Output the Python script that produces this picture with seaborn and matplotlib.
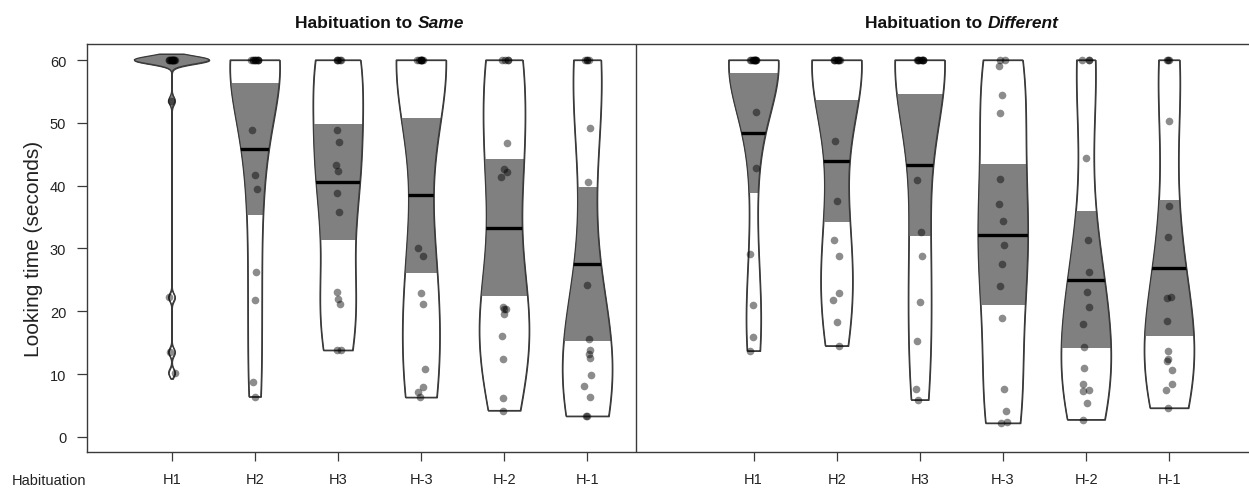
import numpy as np
import pandas as pd
import seaborn as sns
import matplotlib.pyplot as plt
from matplotlib.patches import Rectangle, PathPatch
from matplotlib.offsetbox import TextArea, HPacker, AnnotationBbox

# phases and x positions of the two habituation groups
phases = ['H1', 'H2', 'H3', 'H-3', 'H-2', 'H-1']
same_pos = [1, 2, 3, 4, 5, 6]
diff_pos = [8, 9, 10, 11, 12, 13]

# looking times (seconds), 16 infants per cell
same_h1 = [60, 60, 60, 60, 60, 60, 60, 60, 60, 60, 60, 60, 53.5, 22.2, 13.5, 10.2]
same_h2 = [60, 60, 60, 60, 60, 60, 60, 60, 60, 48.9, 41.7, 39.5, 26.2, 21.8, 8.8, 6.4]
same_h3 = [60, 60, 60, 60, 60, 48.9, 46.9, 43.3, 42.4, 38.8, 35.8, 23.1, 22.0, 21.2, 13.9, 13.8]
same_hm3 = [60, 60, 60, 60, 60, 60, 60, 60, 30.1, 28.8, 22.9, 21.1, 10.8, 8.0, 7.2, 6.3]
same_hm2 = [60, 60, 60, 60, 46.8, 42.7, 42.2, 41.4, 20.7, 20.4, 20.3, 19.6, 16.1, 12.4, 6.2, 4.2]
same_hm1 = [60, 60, 60, 60, 49.1, 40.6, 24.2, 15.6, 13.8, 13.2, 12.5, 9.9, 8.1, 6.3, 3.4, 3.3]

diff_h1 = [60, 60, 60, 60, 60, 60, 60, 60, 60, 60, 51.8, 42.8, 29.1, 21.0, 15.9, 13.7]
diff_h2 = [60, 60, 60, 60, 60, 60, 60, 60, 47.1, 37.6, 31.4, 28.8, 22.9, 21.8, 18.3, 14.5]
diff_h3 = [60, 60, 60, 60, 60, 60, 60, 60, 60, 40.9, 32.7, 28.8, 21.4, 15.3, 7.7, 5.9]
diff_hm3 = [60, 60, 59.1, 54.4, 51.6, 41.0, 37.0, 34.4, 30.6, 27.5, 24.1, 19.0, 7.6, 4.1, 2.4, 2.2]
diff_hm2 = [60, 60, 60, 44.4, 31.4, 26.2, 23.1, 20.7, 18.0, 14.3, 10.9, 8.5, 7.4, 7.3, 5.4, 2.75]
diff_hm1 = [60, 60, 60, 50.3, 36.7, 31.9, 22.2, 22.1, 18.4, 13.6, 12.4, 12.1, 10.6, 8.4, 7.5, 4.6]

T_CRIT = 2.131  # t quantile, df = 15

cells = [same_h1, same_h2, same_h3, same_hm3, same_hm2, same_hm1,
         diff_h1, diff_h2, diff_h3, diff_hm3, diff_hm2, diff_hm1]
rows = []
for pos, vals in zip(same_pos + diff_pos, cells):
    for v in vals:
        rows.append((pos, v))
df = pd.DataFrame(rows, columns=['pos', 'time'])

stats = df.groupby('pos')['time'].agg(['mean', 'std', 'count'])
stats['half'] = T_CRIT * stats['std'] / np.sqrt(stats['count'])


def nrd0(kde):
    # R's default bandwidth rule, as used by the original bean plot
    x = kde.dataset[0]
    sd = x.std(ddof=1)
    q75, q25 = np.percentile(x, [75, 25])
    lo = min(sd, (q75 - q25) / 1.34)
    if lo <= 0:
        lo = sd
    return 0.9 * lo * len(x) ** -0.2 / sd


sns.set_theme(style='ticks')
plt.rcParams['font.family'] = ['Liberation Sans', 'DejaVu Sans']

EDGE = '#3a3a3a'
BAND = '#808080'

fig = plt.figure(figsize=(12.49, 4.89), dpi=100)
ax = fig.add_axes([87 / 1249, 1 - 453 / 489, 1 - 87 / 1249, 408 / 489])

common = dict(x='pos', y='time', native_scale=True, orient='x', inner=None,
              density_norm='width', color='white', saturation=1,
              linecolor=EDGE, linewidth=0.9, bw_method=nrd0, gridsize=512, ax=ax)
sns.violinplot(data=df[df.pos == 1], cut=1.5, width=0.9, **common)
sns.violinplot(data=df[df.pos != 1], cut=0, width=0.6, **common)

polys = {}
for coll in ax.collections:
    path = coll.get_paths()[0]
    polys[int(round(path.vertices[:, 0].mean()))] = (path, coll.get_transform())

for pos, row in stats.iterrows():
    path, tr = polys[pos]
    lo, hi = row['mean'] - row['half'], row['mean'] + row['half']
    band = Rectangle((pos - 0.5, lo), 1, hi - lo, facecolor=BAND,
                     edgecolor='none', zorder=1.5)
    ax.add_patch(band)
    band.set_clip_path(path, tr)
    ax.add_patch(PathPatch(path, facecolor='none', edgecolor=EDGE,
                           lw=0.9, zorder=2))
    ln = ax.hlines(row['mean'], pos - 0.5, pos + 0.5, color='black',
                   lw=2.4, zorder=3)
    ln.set_clip_path(path, tr)

np.random.seed(7)
sns.stripplot(data=df, x='pos', y='time', native_scale=True, orient='x',
              jitter=0.045, color='black', alpha=0.45, size=5.5,
              linewidth=0, zorder=4, ax=ax)

ax.axvline(6.58, color=EDGE, lw=1)

ax.set_xlim(-0.02, 13.96)
ax.set_ylim(-2.4, 62.55)
ax.set_xticks(same_pos + diff_pos)
ax.set_xticklabels(phases + phases)
ax.set_yticks(np.arange(0, 61, 10))
ax.set_xlabel('')
ax.set_ylabel('Looking time (seconds)', fontsize=15, labelpad=5, color='#222222')
ax.tick_params(axis='x', length=6.5, width=0.9, pad=8, labelsize=10.5,
               color=EDGE, labelcolor='#222222')
ax.tick_params(axis='y', length=7, width=0.9, pad=8, labelsize=10.5,
               color=EDGE, labelcolor='#222222')
for side in ['left', 'top', 'bottom']:
    ax.spines[side].set_color(EDGE)
    ax.spines[side].set_linewidth(1)
ax.spines['right'].set_visible(False)

fig.text(12 / 1249, 1 - 481 / 489, 'Habituation', ha='left', va='center',
         fontsize=10.5, color='#222222')

for xc, word in [(3.5, 'Same'), (10.5, 'Different')]:
    box = HPacker(children=[
        TextArea('Habituation to', textprops=dict(fontsize=12.5, weight='bold', color='#111111')),
        TextArea(word, textprops=dict(fontsize=12.5, weight='bold', style='italic', color='#111111')),
    ], align='baseline', pad=0, sep=4)
    ab = AnnotationBbox(box, (xc, 1.052), xycoords=('data', 'axes fraction'),
                        box_alignment=(0.5, 0.5), frameon=False, annotation_clip=False)
    ax.add_artist(ab)

fig.savefig('out.png', dpi=100)
